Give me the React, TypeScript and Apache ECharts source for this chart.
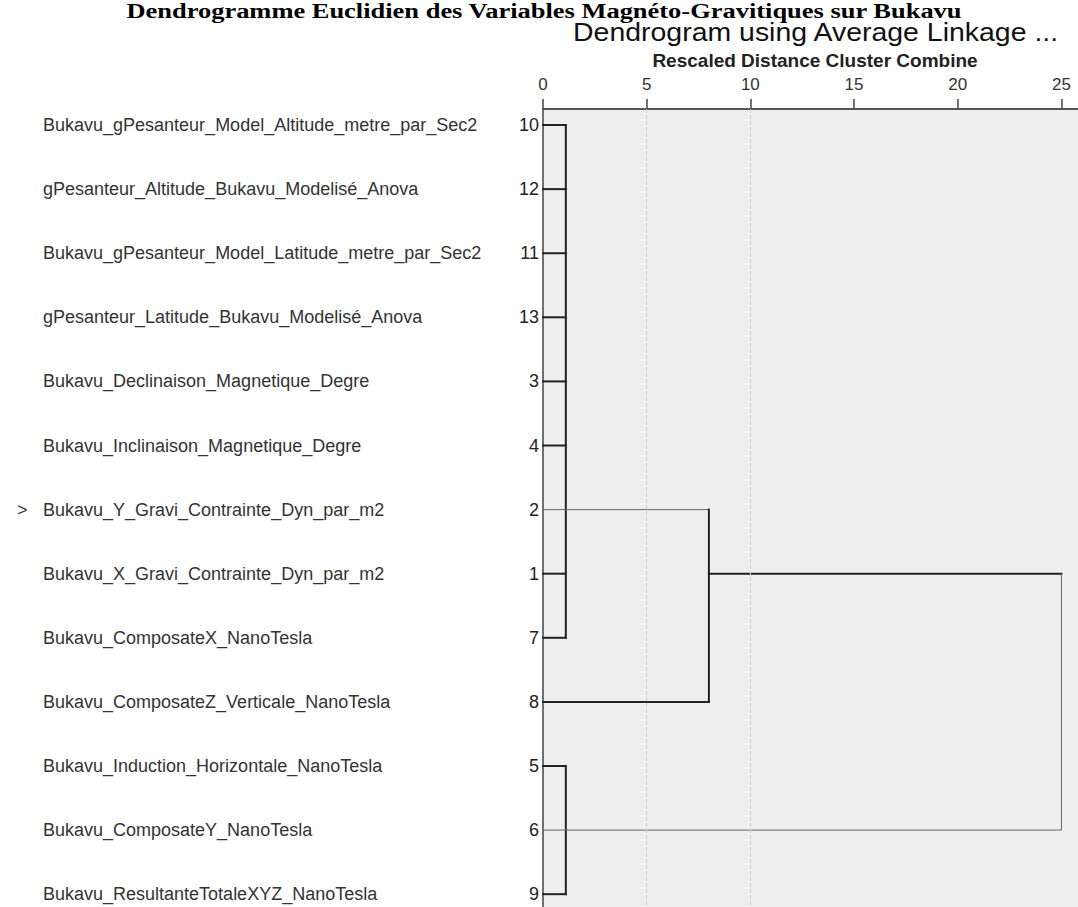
import React, { useEffect, useRef } from "react";
import * as echarts from "echarts";

// ---- data ----
const mainTitle = "Dendrogramme Euclidien des Variables Magnéto-Gravitiques sur Bukavu";
const chartTitle = "Dendrogram using Average Linkage ...";
const axisTitle = "Rescaled Distance Cluster Combine";

const variableNames = [
  "Bukavu_gPesanteur_Model_Altitude_metre_par_Sec2",
  "gPesanteur_Altitude_Bukavu_Modelisé_Anova",
  "Bukavu_gPesanteur_Model_Latitude_metre_par_Sec2",
  "gPesanteur_Latitude_Bukavu_Modelisé_Anova",
  "Bukavu_Declinaison_Magnetique_Degre",
  "Bukavu_Inclinaison_Magnetique_Degre",
  "Bukavu_Y_Gravi_Contrainte_Dyn_par_m2",
  "Bukavu_X_Gravi_Contrainte_Dyn_par_m2",
  "Bukavu_ComposateX_NanoTesla",
  "Bukavu_ComposateZ_Verticale_NanoTesla",
  "Bukavu_Induction_Horizontale_NanoTesla",
  "Bukavu_ComposateY_NanoTesla",
  "Bukavu_ResultanteTotaleXYZ_NanoTesla",
];
const caseNumbers = [10, 12, 11, 13, 3, 4, 2, 1, 7, 8, 5, 6, 9];
const markedRow = 6;

const distanceTicks = [0, 5, 10, 15, 20, 25];
const dashedGridDistances = [5, 10];

// merge structure (rescaled distances, row indices)
const clusterADistance = 1.1;
const clusterAStubRows = [0, 1, 2, 3, 4, 5, 7, 8];
const clusterASpan = [0, 8];
const clusterBDistance = 1.1;
const clusterBStubRows = [10, 12];
const clusterBSpan = [10, 12];
const secondMergeDistance = 8;
const secondMergeThinRow = 6;
const secondMergeThickRow = 9;
const rootDistance = 25;
const rootFromRow = 7;
const rootToRow = 11;

// segments: [d1, row1, d2, row2, thick(1)/thin(0)]
function buildSegments() {
  const s: number[][] = [];
  clusterAStubRows.forEach((r) => s.push([0, r, clusterADistance, r, 1]));
  s.push([clusterADistance, clusterASpan[0], clusterADistance, clusterASpan[1], 1]);
  clusterBStubRows.forEach((r) => s.push([0, r, clusterBDistance, r, 1]));
  s.push([clusterBDistance, clusterBSpan[0], clusterBDistance, clusterBSpan[1], 1]);
  s.push([0, secondMergeThinRow, secondMergeDistance, secondMergeThinRow, 0]);
  s.push([0, secondMergeThickRow, secondMergeDistance, secondMergeThickRow, 1]);
  s.push([secondMergeDistance, secondMergeThinRow, secondMergeDistance, secondMergeThickRow, 1]);
  s.push([secondMergeDistance, rootFromRow, rootDistance, rootFromRow, 1]);
  s.push([rootDistance, rootFromRow, rootDistance, rootToRow, 0]);
  s.push([0, rootToRow, rootDistance, rootToRow, 0]);
  return s;
}

const FONT = "'Liberation Sans', Arial, sans-serif";

export default function App() {
  const ref = useRef<HTMLDivElement>(null);
  useEffect(() => {
    document.body.style.margin = "0";
    const chart = echarts.init(ref.current!, null, { renderer: "svg" });
    const rows = caseNumbers.map((_, i) => i);
    chart.setOption({
      animation: false,
      backgroundColor: "#ffffff",
      grid: {
        left: 543,
        top: 109,
        right: 0,
        bottom: 0,
        show: true,
        backgroundColor: "#efefef",
        borderWidth: 0,
      },
      graphic: [
        {
          type: "text",
          x: 544,
          y: 0,
          scaleX: 1.26,
          style: {
            text: mainTitle,
            x: 0,
            y: 0,
            fontFamily: "'Liberation Serif', 'Times New Roman', serif",
            fontWeight: "bold",
            fontSize: 21,
            fill: "#000",
            align: "center",
            verticalAlign: "top",
          },
        },
        {
          type: "text",
          x: 573,
          y: 32,
          scaleX: 1.095,
          style: {
            text: chartTitle,
            x: 0,
            y: 0,
            fontFamily: FONT,
            fontSize: 26,
            fill: "#111",
            align: "left",
            verticalAlign: "middle",
          },
        },
        {
          type: "text",
          x: 815,
          y: 60,
          style: {
            text: axisTitle,
            fontFamily: FONT,
            fontWeight: "bold",
            fontSize: 19,
            fill: "#222",
            align: "center",
            verticalAlign: "middle",
          },
        },
      ],
      xAxis: {
        type: "value",
        position: "top",
        min: 0,
        max: 25.8,
        axisLine: { show: true, onZero: false, lineStyle: { color: "#555", width: 2 } },
        axisTick: {
          show: true,
          length: 10,
          customValues: distanceTicks,
          lineStyle: { color: "#444", width: 1.5 },
        },
        axisLabel: {
          customValues: distanceTicks,
          margin: 16,
          fontFamily: FONT,
          fontSize: 17,
          color: "#333",
        },
        splitLine: { show: false },
      },
      yAxis: {
        type: "value",
        inverse: true,
        min: -0.25,
        max: 12.2,
        axisLine: { show: true, onZero: false, lineStyle: { color: "#444", width: 1.5 } },
        axisTick: { show: false },
        splitLine: { show: false },
        axisLabel: {
          customValues: rows,
          margin: 4,
          formatter: (v: number) => {
            const i = Math.round(v);
            const mark = i === markedRow ? ">" : " ";
            return `{m|${mark}}{n|${variableNames[i]}}{c|${caseNumbers[i]}}`;
          },
          rich: {
            m: { width: 26, align: "left", fontFamily: FONT, fontSize: 18, color: "#333" },
            n: { width: 462, align: "left", fontFamily: FONT, fontSize: 18, color: "#333" },
            c: { width: 34, align: "right", fontFamily: FONT, fontSize: 18, color: "#222" },
          },
        },
      },
      series: [
        {
          type: "custom",
          clip: false,
          encode: { x: [0, 2], y: [1, 3] },
          data: buildSegments(),
          renderItem: (params: any, api: any) => {
            const a = api.coord([api.value(0), api.value(1)]);
            const b = api.coord([api.value(2), api.value(3)]);
            const thick = api.value(4) === 1;
            return {
              type: "line",
              shape: { x1: a[0], y1: a[1], x2: b[0], y2: b[1] },
              style: {
                stroke: thick ? "#222" : "#666",
                lineWidth: thick ? 2 : 1,
                lineCap: thick ? "square" : "butt",
              },
            };
          },
          markLine: {
            silent: true,
            symbol: "none",
            label: { show: false },
            lineStyle: { type: "dashed", color: "#cfcfcf", width: 1 },
            data: dashedGridDistances.map((d) => ({ xAxis: d })),
          },
          z: 3,
        },
      ],
    });
    return () => chart.dispose();
  }, []);
  return <div ref={ref} style={{ width: 1078, height: 907 }} />;
}
